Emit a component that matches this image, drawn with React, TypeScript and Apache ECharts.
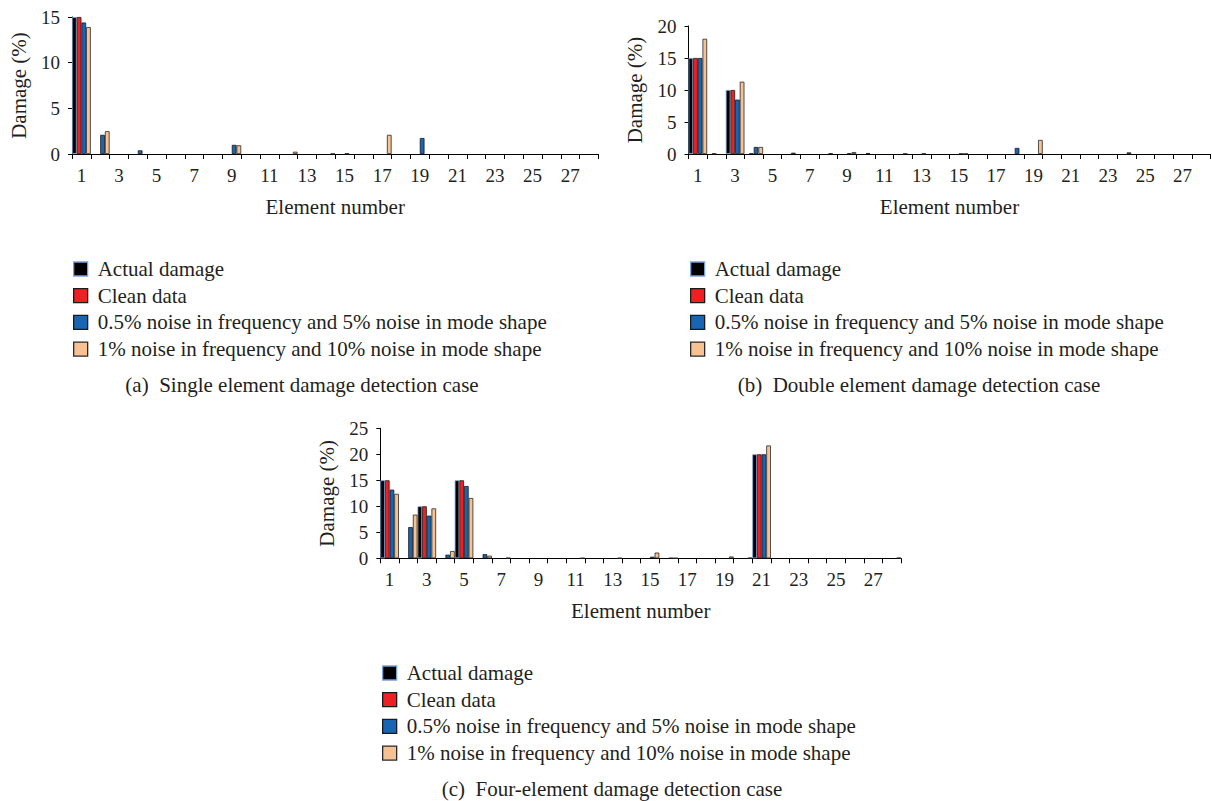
import React, { useEffect, useRef } from "react";
import * as echarts from "echarts";

const elements = [
  "1", "2", "3", "4", "5", "6", "7", "8", "9", "10", "11", "12", "13", "14",
  "15", "16", "17", "18", "19", "20", "21", "22", "23", "24", "25", "26", "27", "28",
];

const seriesNames = [
  "Actual damage",
  "Clean data",
  "0.5% noise in frequency and 5% noise in mode shape",
  "1% noise in frequency and 10% noise in mode shape",
];

// (a) Single element damage
const actualA = [15, 0, 0, 0, 0, 0, 0, 0, 0, 0, 0, 0, 0, 0, 0, 0, 0, 0, 0, 0, 0, 0, 0, 0, 0, 0, 0, 0];
const cleanA = [15, 0, 0, 0, 0, 0, 0, 0, 0, 0, 0, 0, 0, 0, 0, 0, 0, 0, 0, 0, 0, 0, 0, 0, 0, 0, 0, 0];
const noise1A = [14.4, 2.1, 0, 0.4, 0, 0, 0, 0, 1.0, 0, 0, 0, 0, 0, 0.05, 0, 0, 0, 1.75, 0, 0, 0, 0, 0, 0, 0, 0, 0];
const noise2A = [13.9, 2.5, 0, 0, 0, 0, 0, 0, 0.95, 0, 0, 0.25, 0, 0.05, 0, 0, 2.1, 0, 0, 0, 0, 0, 0, 0, 0, 0, 0, 0];

// (b) Double element damage
const actualB = [15, 0, 10, 0, 0, 0, 0, 0, 0, 0, 0, 0, 0, 0, 0, 0, 0, 0, 0, 0, 0, 0, 0, 0, 0, 0, 0, 0];
const cleanB = [15, 0.05, 10, 0.1, 0, 0, 0, 0, 0, 0, 0, 0, 0, 0, 0, 0, 0, 0, 0, 0, 0, 0, 0, 0, 0, 0, 0, 0];
const noise1B = [15, 0, 8.5, 1.1, 0, 0.2, 0, 0.1, 0.1, 0.15, 0, 0.05, 0.05, 0, 0.05, 0, 0, 0.95, 0, 0, 0, 0, 0, 0.25, 0, 0, 0, 0];
const noise2B = [18, 0, 11.3, 1.1, 0, 0, 0, 0, 0.3, 0, 0, 0, 0, 0, 0.05, 0, 0, 0, 2.2, 0, 0, 0, 0, 0, 0, 0, 0, 0];

// (c) Four-element damage
const actualC = [15, 0, 10, 0, 15, 0, 0, 0, 0, 0, 0, 0, 0, 0, 0, 0, 0, 0, 0, 0, 20, 0, 0, 0, 0, 0, 0, 0];
const cleanC = [15, 0, 10, 0, 15, 0, 0, 0, 0, 0, 0, 0, 0, 0, 0, 0, 0, 0, 0, 0, 20, 0, 0, 0, 0, 0, 0, 0];
const noise1C = [13.2, 6.0, 8.2, 0.7, 13.9, 0.8, 0, 0, 0, 0, 0, 0, 0, 0, 0.3, 0.05, 0, 0, 0, 0, 20, 0, 0, 0, 0, 0, 0, 0];
const noise2C = [12.4, 8.4, 9.6, 1.4, 11.6, 0.5, 0.1, 0, 0, 0, 0.05, 0, 0.05, 0, 1.1, 0.05, 0, 0, 0.35, 0.1, 21.7, 0, 0, 0, 0, 0, 0, 0.1];

const yMaxes = [15, 20, 25];
const captions = [
  "(a)  Single element damage detection case",
  "(b)  Double element damage detection case",
  "(c)  Four-element damage detection case",
];

const FONT = "Liberation Serif";
const TEXT = "#231f20";
const fills = ["#000000", "#ee2024", "#1765b3", "#f6c193"];
const borders = ["#78a3d6", "#1a1a1a", "#1a1a1a", "#2a2a2a"];

const grids = [
  { left: 72, top: 17, width: 526.4, height: 137 },
  { left: 688.5, top: 26, width: 522, height: 128 },
  { left: 380.3, top: 428.3, width: 520.8, height: 130 },
];

const legendPos = [
  { left: 68, top: 253.5 },
  { left: 685, top: 253.5 },
  { left: 377, top: 657.5 },
];

const captionPos = [
  { x: 302, y: 385 },
  { x: 919, y: 385 },
  { x: 612, y: 789 },
];

export default function App() {
  const ref = useRef<HTMLDivElement>(null);

  useEffect(() => {
    if (!ref.current) return;
    const chart = echarts.init(ref.current, null, { renderer: "svg" });
    const data = [
      [actualA, cleanA, noise1A, noise2A],
      [actualB, cleanB, noise1B, noise2B],
      [actualC, cleanC, noise1C, noise2C],
    ];

    const xAxis = grids.map((_, i) => ({
      type: "category",
      gridIndex: i,
      data: elements,
      name: "Element number",
      nameLocation: "middle",
      nameGap: 42,
      nameTextStyle: { fontFamily: FONT, fontSize: 21, color: TEXT },
      axisLine: { lineStyle: { color: "#000", width: 1 } },
      axisTick: { show: true, interval: 0, length: 5, alignWithLabel: false, lineStyle: { color: "#000" } },
      axisLabel: { interval: 1, margin: 11.5, fontFamily: FONT, fontSize: 19, color: TEXT },
      splitLine: { show: false },
    }));

    const yAxis = grids.map((_, i) => ({
      type: "value",
      gridIndex: i,
      min: 0,
      max: yMaxes[i],
      interval: 5,
      name: "Damage (%)",
      nameLocation: "middle",
      nameRotate: 90,
      nameGap: 43,
      nameTextStyle: { fontFamily: FONT, fontSize: 21, color: TEXT },
      axisLine: { show: true, lineStyle: { color: "#000", width: 1 } },
      axisTick: { show: true, length: 4, lineStyle: { color: "#000" } },
      axisLabel: { margin: 12, fontFamily: FONT, fontSize: 19, color: TEXT },
      splitLine: { show: false },
    }));

    const series: any[] = [];
    data.forEach((group, gi) => {
      group.forEach((vals, si) => {
        series.push({
          type: "bar",
          name: seriesNames[si],
          xAxisIndex: gi,
          yAxisIndex: gi,
          data: vals.map((v) => (v === 0 ? "-" : v)),
          barGap: "0%",
          barCategoryGap: "0%",
          itemStyle: { color: fills[si], borderColor: borders[si], borderWidth: 0.8 },
        });
      });
    });

    const legend = legendPos.map((p) => ({
      orient: "vertical",
      left: p.left,
      top: p.top,
      itemWidth: 14,
      itemHeight: 14,
      itemGap: 5.7,
      icon: "rect",
      selectedMode: false,
      data: seriesNames,
      itemStyle: { borderWidth: 1.3 },
      textStyle: { fontFamily: FONT, fontSize: 21, lineHeight: 21, color: TEXT, padding: [0, 0, 0, 5] },
    }));

    const graphic = captions.map((c, i) => ({
      type: "text",
      x: captionPos[i].x,
      y: captionPos[i].y,
      style: {
        text: c,
        font: `21px ${FONT}`,
        fill: TEXT,
        textAlign: "center",
        textVerticalAlign: "middle",
        align: "center",
        verticalAlign: "middle",
      },
    }));

    chart.setOption({
      animation: false,
      backgroundColor: "#ffffff",
      textStyle: { fontFamily: FONT, color: TEXT },
      grid: grids.map((g) => ({ ...g, containLabel: false })),
      xAxis,
      yAxis,
      legend,
      series,
      graphic,
    } as any);

    return () => chart.dispose();
  }, []);

  return (
    <div
      ref={ref}
      style={{ position: "fixed", left: 0, top: 0, width: 1212, height: 801, background: "#fff" }}
    />
  );
}
